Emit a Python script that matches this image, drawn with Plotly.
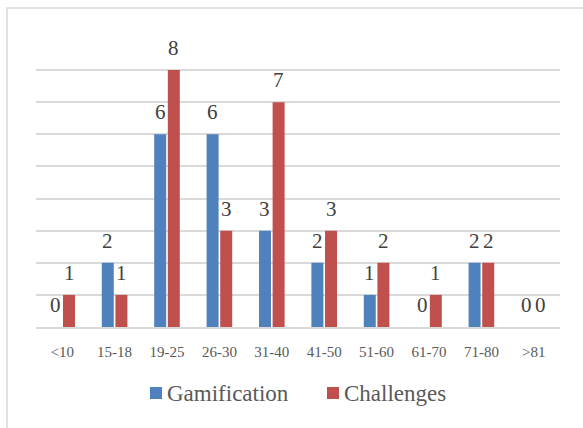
import plotly.graph_objects as go

# Age groups and counts per category
age_groups = ["<10", "15-18", "19-25", "26-30", "31-40", "41-50", "51-60", "61-70", "71-80", ">81"]
gamification = [0, 2, 6, 6, 3, 2, 1, 0, 2, 0]
challenges = [1, 1, 8, 3, 7, 3, 2, 1, 2, 0]
series_names = ["Gamification", "Challenges"]

BLUE = "#4F81BD"
RED = "#C0504D"
GRID = "#D9D9D9"
FONT = "'Times New Roman', 'Liberation Serif', serif"

W, H = 583, 428
L, R, T, B = 36, 23, 38, 101
pw, ph = W - L - R, H - T - B
BARGAP = 0.48


def px_x(x):
    return (x - L) / pw


def px_y(y):
    return (ph - (y - T)) / ph


fig = go.Figure()
series = list(zip(series_names, [gamification, challenges], [BLUE, RED]))
for name, vals, col in series:
    fig.add_trace(go.Bar(
        x=age_groups, y=vals, name=name,
        marker=dict(color=col, line=dict(width=0)),
        showlegend=False,
    ))

# value labels above each bar
cat_w = pw / len(age_groups)
slot = cat_w * (1 - BARGAP) / 2
for i, (name, vals, col) in enumerate(series):
    dx = (i - 0.5) * slot
    for cat, v in zip(age_groups, vals):
        fig.add_annotation(
            x=cat, y=v, xref="x", yref="y", showarrow=False, text=str(v),
            xshift=dx, yshift=22, xanchor="center", yanchor="middle",
            font=dict(family=FONT, size=21, color="#404040"),
        )

# outer chart frame
fig.add_shape(
    type="rect", xref="paper", yref="paper",
    x0=px_x(7), x1=px_x(W + 10), y0=px_y(H + 10), y1=px_y(8),
    line=dict(color=GRID, width=1.5), fillcolor="rgba(0,0,0,0)", layer="below",
)

# legend: colour square followed by series name
legend_items = [(series_names[0], BLUE, 150), (series_names[1], RED, 327)]
for name, col, x0 in legend_items:
    fig.add_shape(
        type="rect", xref="paper", yref="paper",
        x0=px_x(x0), x1=px_x(x0 + 12), y0=px_y(399), y1=px_y(387),
        line=dict(width=0), fillcolor=col,
    )
    fig.add_annotation(
        xref="paper", yref="paper", x=px_x(x0 + 15), y=px_y(393),
        xanchor="left", yanchor="middle", showarrow=False, text=name,
        font=dict(family=FONT, size=23, color="#595959"),
    )

fig.update_layout(
    width=W, height=H,
    margin=dict(l=L, r=R, t=T, b=B),
    paper_bgcolor="white", plot_bgcolor="white",
    barmode="group", bargap=BARGAP, bargroupgap=0.12,
    font=dict(family=FONT, color="#595959"),
    showlegend=False,
)
fig.update_xaxes(
    showgrid=False, showline=True, linecolor=GRID, linewidth=1.5,
    ticks="outside", ticklen=10, tickcolor="rgba(0,0,0,0)",
    tickfont=dict(family=FONT, size=15, color="#595959"),
    fixedrange=True,
)
fig.update_yaxes(
    range=[0, 9], dtick=1, showgrid=True, gridcolor=GRID, gridwidth=1.5,
    showticklabels=False, zeroline=False, showline=False, fixedrange=True,
)

fig.write_html("out.html")
